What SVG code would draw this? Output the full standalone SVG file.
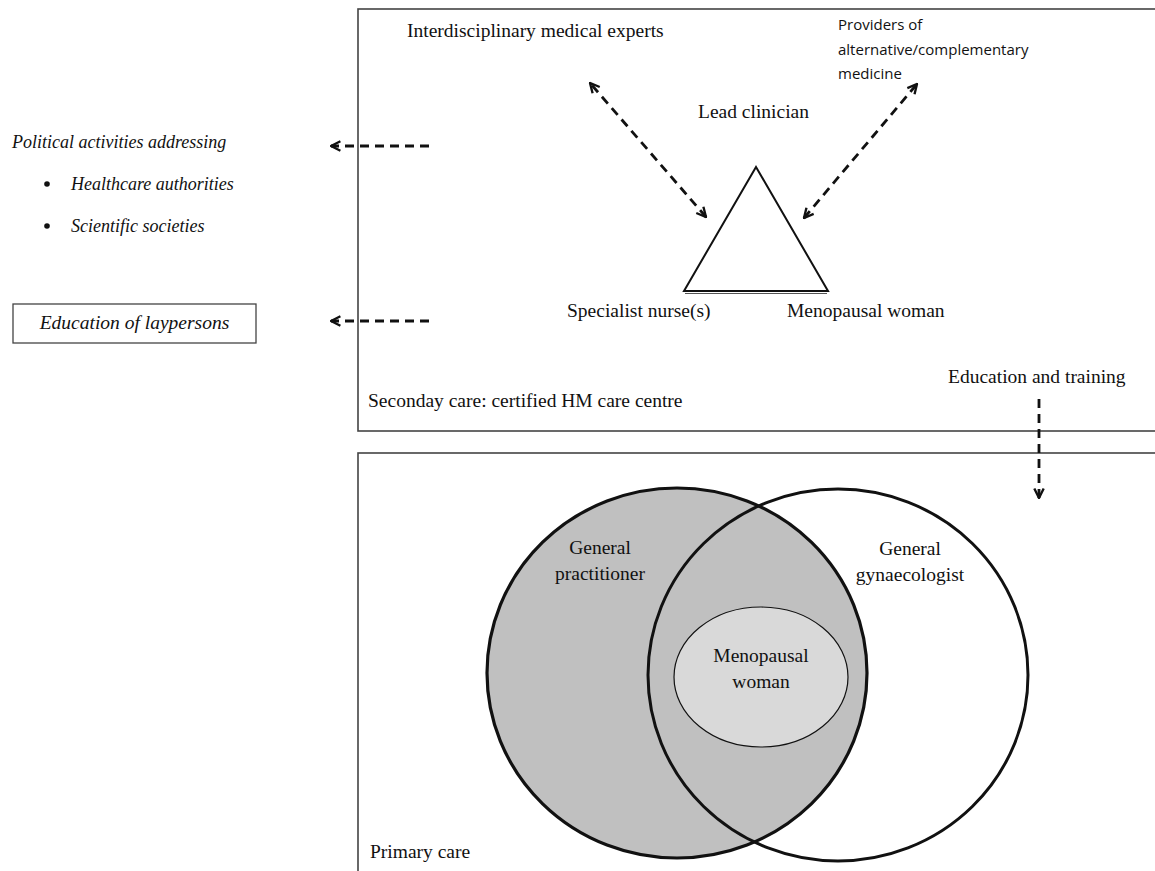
<svg xmlns="http://www.w3.org/2000/svg" width="1155" height="871" viewBox="0 0 1155 871">
<style>
.serif{font-family:"Liberation Serif","Times New Roman",serif;fill:#111;font-size:19.5px}
.it{font-style:italic;font-size:18px}
.sans{font-family:"Open Sans","Noto Sans",sans-serif;fill:#111;font-size:15px}
.box{fill:none;stroke:#444;stroke-width:1.6}
.dash{fill:none;stroke:#111;stroke-width:2.8;stroke-dasharray:9 6}
</style>
<defs>
<marker id="ah" viewBox="0 0 10 10" refX="9" refY="5" markerWidth="4.2" markerHeight="4.2" orient="auto-start-reverse" markerUnits="strokeWidth">
<path d="M1,1 L9,5 L1,9" fill="none" stroke="#111" stroke-width="2"/>
</marker>
</defs>
<rect width="1155" height="871" fill="#fff"/>

<g id="secondary-care">
<rect class="box" x="358" y="9" width="800" height="422"/>
<text class="serif" x="368" y="407">Seconday care: certified HM care centre</text>
</g>

<g id="primary-care">
<rect class="box" x="358" y="453" width="800" height="430"/>
<text class="serif" x="370" y="858">Primary care</text>
</g>

<g id="interdisciplinary">
<text class="serif" x="407" y="37">Interdisciplinary medical experts</text>
</g>

<g id="providers">
<text class="sans" x="838" y="30">Providers of</text>
<text class="sans" x="838" y="55">alternative/complementary</text>
<text class="sans" x="838" y="79">medicine</text>
</g>

<g id="triangle">
<polygon points="756,167 684,291 828,291" fill="#fff" stroke="#111" stroke-width="2"/>
<line x1="685" y1="293.5" x2="827" y2="293.5" stroke="#555" stroke-width="1"/>
<text class="serif" x="698" y="118">Lead clinician</text>
<text class="serif" x="567" y="317">Specialist nurse(s)</text>
<text class="serif" x="787" y="317">Menopausal woman</text>
</g>

<g id="political">
<text class="serif it" x="12" y="148">Political activities addressing</text>
<circle cx="47" cy="184" r="2.8" fill="#111"/>
<text class="serif it" x="71" y="190">Healthcare authorities</text>
<circle cx="47" cy="226" r="2.8" fill="#111"/>
<text class="serif it" x="71" y="232">Scientific societies</text>
</g>

<g id="education-laypersons">
<rect x="13" y="304" width="243" height="39" fill="#fff" stroke="#444" stroke-width="1.3"/>
<text class="serif it" x="134.5" y="329" text-anchor="middle" style="font-size:19.5px">Education of laypersons</text>
</g>

<g id="education-training">
<text class="serif" x="948" y="383">Education and training</text>
</g>

<g id="venn">
<ellipse cx="677" cy="673" rx="190" ry="185" fill="#c0c0c0" stroke="#111" stroke-width="3.2"/>
<ellipse cx="838" cy="675" rx="190" ry="186" fill="none" stroke="#111" stroke-width="3"/>
<ellipse cx="761" cy="677" rx="87" ry="70" fill="#d9d9d9" stroke="#111" stroke-width="1.2"/>
<text class="serif" x="600" y="554" text-anchor="middle">General</text>
<text class="serif" x="600" y="580" text-anchor="middle">practitioner</text>
<text class="serif" x="910" y="555" text-anchor="middle">General</text>
<text class="serif" x="910" y="581" text-anchor="middle">gynaecologist</text>
<text class="serif" x="761" y="662" text-anchor="middle">Menopausal</text>
<text class="serif" x="761" y="688" text-anchor="middle">woman</text>
</g>

<g id="connectors">
<line class="dash" x1="706" y1="217" x2="590" y2="83" marker-start="url(#ah)" marker-end="url(#ah)"/>
<line class="dash" x1="804" y1="218" x2="917" y2="84" marker-start="url(#ah)" marker-end="url(#ah)"/>
<line class="dash" x1="429" y1="146" x2="331" y2="146" marker-end="url(#ah)" stroke-dasharray="10 7"/>
<line class="dash" x1="429" y1="321" x2="331" y2="321" marker-end="url(#ah)" stroke-dasharray="10 7"/>
<line class="dash" x1="1039" y1="399" x2="1039" y2="498" marker-end="url(#ah)" stroke-dasharray="9 6"/>
</g>
</svg>
